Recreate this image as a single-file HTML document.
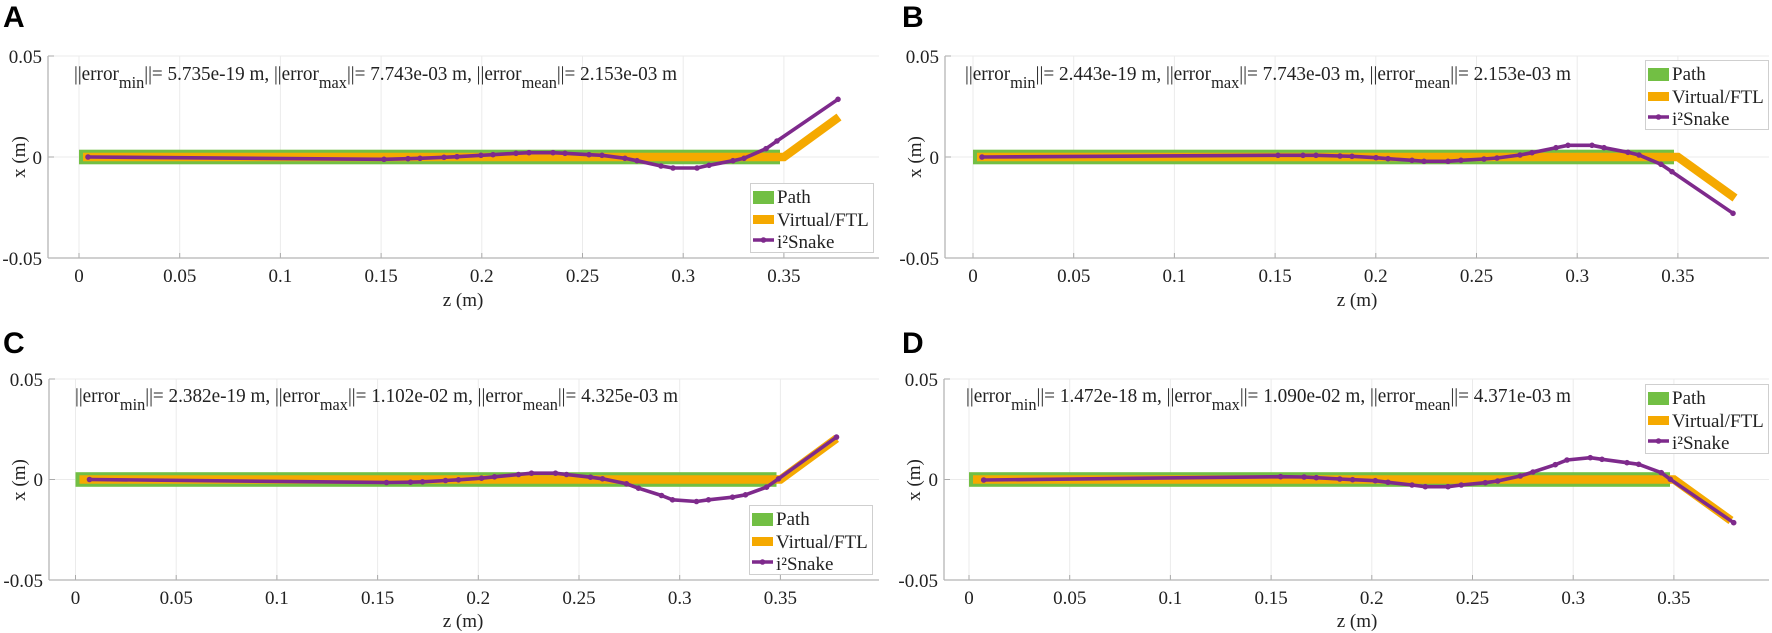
<!DOCTYPE html>
<html><head><meta charset="utf-8">
<style>
html,body{margin:0;padding:0;background:#fff;}
svg{display:block;}
text{font-family:"Liberation Serif",serif;fill:#222;}
.t{font-size:19px;}
.ty{font-size:19px;text-anchor:end;}
.tx{font-size:19px;text-anchor:middle;}
.h{font-size:20px;}
.lt{font-size:19px;}
.pl{font-family:"Liberation Sans",sans-serif;font-weight:bold;font-size:30px;fill:#000;}
</style></head>
<body>
<svg id="s" width="1772" height="633" viewBox="0 0 1772 633" xmlns="http://www.w3.org/2000/svg">
<g id="plots"></g>
<!-- Panel letters -->
<text class="pl" x="3" y="27">A</text>
<text class="pl" x="902" y="27">B</text>
<text class="pl" x="3" y="353">C</text>
<text class="pl" x="902" y="353">D</text>

<!-- Headers -->
<text class="h" x="74" y="80" textLength="603" lengthAdjust="spacingAndGlyphs">||error<tspan font-size="17" dy="8">min</tspan><tspan dy="-8">||= 5.735e-19 m, ||error</tspan><tspan font-size="17" dy="8">max</tspan><tspan dy="-8">||= 7.743e-03 m, ||error</tspan><tspan font-size="17" dy="8">mean</tspan><tspan dy="-8">||= 2.153e-03 m</tspan></text>
<text class="h" x="965" y="80" textLength="606" lengthAdjust="spacingAndGlyphs">||error<tspan font-size="17" dy="8">min</tspan><tspan dy="-8">||= 2.443e-19 m, ||error</tspan><tspan font-size="17" dy="8">max</tspan><tspan dy="-8">||= 7.743e-03 m, ||error</tspan><tspan font-size="17" dy="8">mean</tspan><tspan dy="-8">||= 2.153e-03 m</tspan></text>
<text class="h" x="75" y="402" textLength="603" lengthAdjust="spacingAndGlyphs">||error<tspan font-size="17" dy="8">min</tspan><tspan dy="-8">||= 2.382e-19 m, ||error</tspan><tspan font-size="17" dy="8">max</tspan><tspan dy="-8">||= 1.102e-02 m, ||error</tspan><tspan font-size="17" dy="8">mean</tspan><tspan dy="-8">||= 4.325e-03 m</tspan></text>
<text class="h" x="966" y="402" textLength="605" lengthAdjust="spacingAndGlyphs">||error<tspan font-size="17" dy="8">min</tspan><tspan dy="-8">||= 1.472e-18 m, ||error</tspan><tspan font-size="17" dy="8">max</tspan><tspan dy="-8">||= 1.090e-02 m, ||error</tspan><tspan font-size="17" dy="8">mean</tspan><tspan dy="-8">||= 4.371e-03 m</tspan></text>

<!-- Y tick labels -->
<text class="ty" x="42" y="63">0.05</text><text class="ty" x="42" y="164">0</text><text class="ty" x="42" y="265">-0.05</text>
<text class="ty" x="939" y="63">0.05</text><text class="ty" x="939" y="164">0</text><text class="ty" x="939" y="265">-0.05</text>
<text class="ty" x="43" y="386">0.05</text><text class="ty" x="43" y="486">0</text><text class="ty" x="43" y="587">-0.05</text>
<text class="ty" x="938" y="386">0.05</text><text class="ty" x="938" y="486">0</text><text class="ty" x="938" y="587">-0.05</text>

<!-- Y axis labels -->
<text class="tx" transform="translate(25,157) rotate(-90)">x (m)</text>
<text class="tx" transform="translate(921,157) rotate(-90)">x (m)</text>
<text class="tx" transform="translate(25,480) rotate(-90)">x (m)</text>
<text class="tx" transform="translate(920,480) rotate(-90)">x (m)</text>

<!-- X tick labels row 1 -->
<g class="tx">
<text class="tx" x="79" y="282">0</text><text class="tx" x="179.7" y="282">0.05</text><text class="tx" x="280.4" y="282">0.1</text><text class="tx" x="381.1" y="282">0.15</text><text class="tx" x="481.8" y="282">0.2</text><text class="tx" x="582.5" y="282">0.25</text><text class="tx" x="683.2" y="282">0.3</text><text class="tx" x="783.9" y="282">0.35</text>
<text class="tx" x="973" y="282">0</text><text class="tx" x="1073.7" y="282">0.05</text><text class="tx" x="1174.4" y="282">0.1</text><text class="tx" x="1275.1" y="282">0.15</text><text class="tx" x="1375.8" y="282">0.2</text><text class="tx" x="1476.5" y="282">0.25</text><text class="tx" x="1577.2" y="282">0.3</text><text class="tx" x="1677.9" y="282">0.35</text>
<text class="tx" x="75.5" y="604">0</text><text class="tx" x="176.2" y="604">0.05</text><text class="tx" x="276.9" y="604">0.1</text><text class="tx" x="377.6" y="604">0.15</text><text class="tx" x="478.3" y="604">0.2</text><text class="tx" x="579" y="604">0.25</text><text class="tx" x="679.7" y="604">0.3</text><text class="tx" x="780.4" y="604">0.35</text>
<text class="tx" x="969" y="604">0</text><text class="tx" x="1069.7" y="604">0.05</text><text class="tx" x="1170.4" y="604">0.1</text><text class="tx" x="1271.1" y="604">0.15</text><text class="tx" x="1371.8" y="604">0.2</text><text class="tx" x="1472.5" y="604">0.25</text><text class="tx" x="1573.2" y="604">0.3</text><text class="tx" x="1673.9" y="604">0.35</text>
</g>
<!-- X axis labels -->
<text class="tx" x="463" y="306">z (m)</text>
<text class="tx" x="1357" y="306">z (m)</text>
<text class="tx" x="463" y="627">z (m)</text>
<text class="tx" x="1357" y="627">z (m)</text>

<!-- Legends -->
<g id="legends"></g>
<text class="lt" x="777" y="203">Path</text><text class="lt" x="777" y="226">Virtual/FTL</text><text class="lt" x="777" y="248">i²Snake</text>
<text class="lt" x="1672" y="80">Path</text><text class="lt" x="1672" y="103">Virtual/FTL</text><text class="lt" x="1672" y="125">i²Snake</text>
<text class="lt" x="776" y="525">Path</text><text class="lt" x="776" y="548">Virtual/FTL</text><text class="lt" x="776" y="570">i²Snake</text>
<text class="lt" x="1672" y="404">Path</text><text class="lt" x="1672" y="427">Virtual/FTL</text><text class="lt" x="1672" y="449">i²Snake</text>
</svg>
<script>
(function(){
var NS="http://www.w3.org/2000/svg";
var G=document.getElementById("plots"), LG=document.getElementById("legends");
function el(p,n,a){var e=document.createElementNS(NS,n);for(var k in a)e.setAttribute(k,a[k]);p.appendChild(e);return e;}
var GREEN="#72bf44",ORANGE="#f5a900",PURPLE="#7e2a8c",SX=100.7;
var P=[
 {L:48,Z:79,R:879,T:56,B:258,Y:157,end:[760,40],
  d:[[9,0],[305,-2.3],[329,-1.7],[341,-1.3],[365,-0.3],[378,0.3],[402,1.7],[414,2.3],[437,3.7],[450,4.3],[474,4.3],[486,3.7],[510,2.3],[523,1.7],[546,-1.3],[558,-3.7],[582,-9],[594,-11],[618,-11],[630,-8.3],[654,-3.7],[665,-1.3],[687,8.3],[698,16],[759,57.7]]},
 {L:945,Z:973,R:1769,T:56,B:258,Y:157,end:[762,-41],
  d:[[9,0],[305,1.7],[330,1.7],[343,1.7],[367,1],[379,0.7],[403,-0.7],[415,-1.7],[439,-3.3],[451,-4.3],[475,-4.3],[488,-3.3],[511,-2],[524,-1],[547,2],[559,4.3],[583,9.3],[595,11.7],[619,11.7],[631,9.3],[655,4.7],[666,2],[688,-7.3],[699,-14.7],[760,-56.3]]},
 {L:49,Z:75.5,R:879,T:379,B:580,Y:479.5,end:[761,41],
  d:[[14,0],[311,-3],[335,-2.7],[347,-2.3],[370,-1],[383,-0.3],[406,1.3],[419,2.7],[443,5],[456,6.3],[480,6.3],[491,5],[515,2.3],[527,0.7],[551,-4.3],[563,-8.7],[586,-16],[597,-20.3],[621,-22],[633,-20.3],[657,-17.7],[670,-15.3],[691,-7.7],[703,0.7],[761,42.4]]},
 {L:944,Z:969,R:1769,T:379,B:580,Y:479.5,end:[762,-41],
  d:[[14.7,-0.5],[311.6,2.8],[335.1,2.5],[347.3,1.8],[370.8,0.5],[383.6,-0.2],[406.3,-1.2],[419,-2.8],[443,-5.5],[456.3,-7.2],[479,-7.2],[492.3,-5.5],[516.3,-3.2],[528.7,-1.5],[551.3,3.5],[564,7.5],[586.3,14.8],[598,19.5],[621.3,21.8],[633,20.2],[658,16.8],[669.7,15.2],[692.3,6.8],[701.3,0.2],[764.7,-43.2]]}
];
P.forEach(function(p){
  // grid
  for(var k=0;k<8;k++){var x=p.Z+k*SX;el(G,"line",{x1:x,y1:p.T,x2:x,y2:p.B,stroke:"#ebebeb","stroke-width":1});
    el(G,"line",{x1:x,y1:p.B,x2:x,y2:p.B-5,stroke:"#aaa","stroke-width":1});}
  [p.T,p.Y].forEach(function(y){el(G,"line",{x1:p.L,y1:y,x2:p.R,y2:y,stroke:"#ebebeb","stroke-width":1});});
  [p.T,p.Y,p.B].forEach(function(y){el(G,"line",{x1:p.L,y1:y,x2:p.L+6,y2:y,stroke:"#aaa","stroke-width":1});});
  el(G,"line",{x1:p.L,y1:p.T,x2:p.L,y2:p.B,stroke:"#b5b5b5","stroke-width":1.3});
  el(G,"line",{x1:p.L,y1:p.B,x2:p.R,y2:p.B,stroke:"#b5b5b5","stroke-width":1.3});
  // path
  el(G,"rect",{x:p.Z,y:p.Y-7.3,width:701,height:14.6,fill:GREEN});
  // virtual
  el(G,"polyline",{points:(p.Z+4)+","+p.Y+" "+(p.Z+705)+","+p.Y+" "+(p.Z+p.end[0])+","+(p.Y-p.end[1]),fill:"none",stroke:ORANGE,"stroke-width":8.5,"stroke-linejoin":"miter"});
  // snake
  var pts=p.d.map(function(q){return (p.Z+q[0]).toFixed(1)+","+(p.Y-q[1]).toFixed(1);}).join(" ");
  el(G,"polyline",{points:pts,fill:"none",stroke:PURPLE,"stroke-width":3.6,"stroke-linejoin":"round"});
  p.d.forEach(function(q){el(G,"circle",{cx:p.Z+q[0],cy:p.Y-q[1],r:2.8,fill:PURPLE});});
});
// legends
[[750,183],[1645,60],[749,505],[1645,384]].forEach(function(b){
  var x=b[0],y=b[1];
  el(LG,"rect",{x:x+0.5,y:y+0.5,width:123,height:69,fill:"#fff",stroke:"#cfcfcf","stroke-width":1});
  el(LG,"rect",{x:x+3,y:y+8,width:21,height:13,fill:GREEN});
  el(LG,"rect",{x:x+3,y:y+32,width:21,height:9,fill:ORANGE});
  el(LG,"line",{x1:x+3,y1:y+57,x2:x+24,y2:y+57,stroke:PURPLE,"stroke-width":3.6});
  el(LG,"circle",{cx:x+13.5,cy:y+57,r:2.8,fill:PURPLE});
});
})();
</script>
</body></html>
